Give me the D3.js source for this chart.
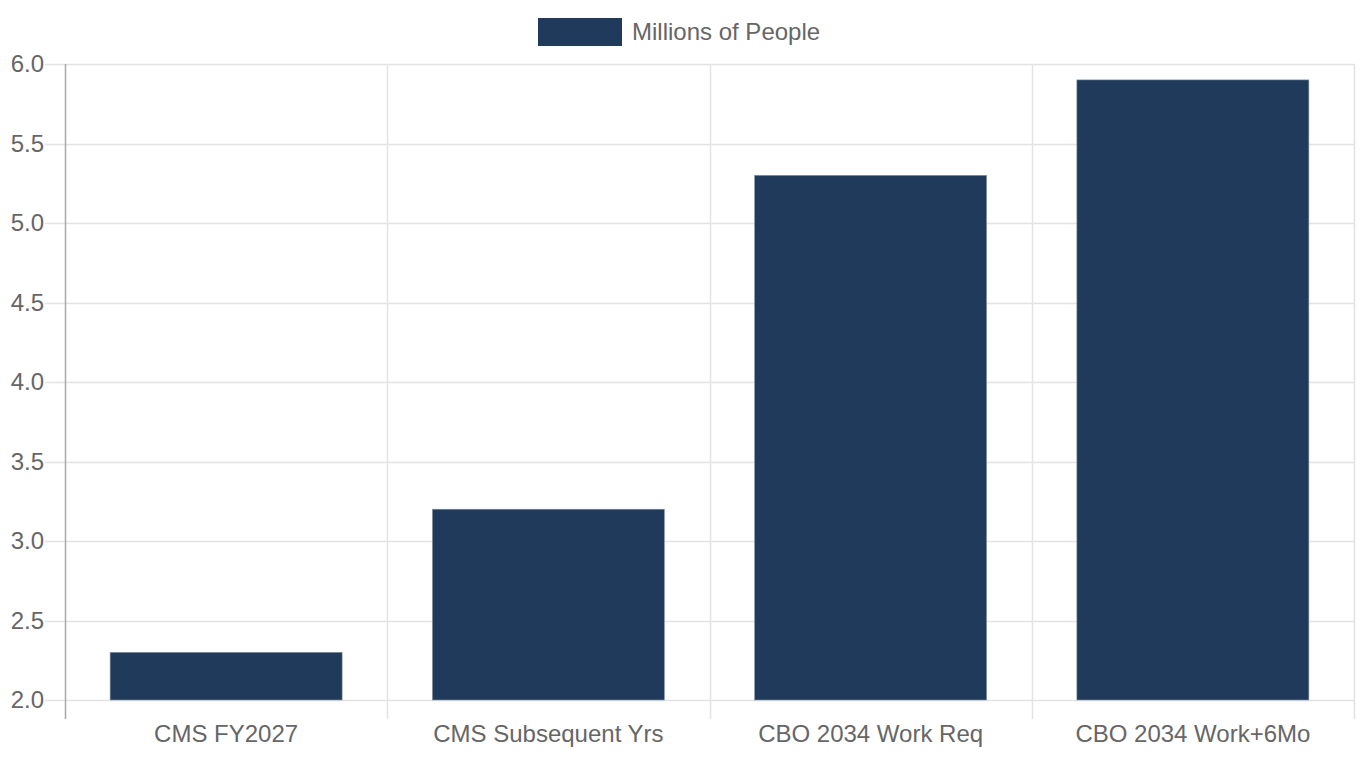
<!DOCTYPE html>
<html>
<head>
<meta charset="utf-8">
<script src="https://cdn.jsdelivr.net/npm/d3@7"></script>
<style>
  body { margin: 0; background: #fff; }
  svg text { font-family: "Liberation Sans", Arial, sans-serif; fill: #666; }
</style>
</head>
<body>
<div id="chart"></div>
<script>
// dados - data
var categories = ['CMS FY2027', 'CMS Subsequent Yrs', 'CBO 2034 Work Req', 'CBO 2034 Work+6Mo'];
var values = [2.3, 3.2, 5.3, 5.9];
var yTicks = [2.0, 2.5, 3.0, 3.5, 4.0, 4.5, 5.0, 5.5, 6.0];
var seriesName = 'Millions of People';

var width = 1360, height = 760;
var plotL = 65, plotR = 1354, plotT = 64, plotB = 700;
var barColor = '#1f3a5a';

var svg = d3.select('#chart')
  .append('svg')
  .attr('width', width)
  .attr('height', height);

var x = d3.scaleBand()
  .domain(categories)
  .range([plotL, plotR])
  .paddingInner(0)
  .paddingOuter(0);

var y = d3.scaleLinear()
  .domain([2, 6])
  .range([plotB, plotT]);

// horizontal grid + ticks
svg.append('g')
  .selectAll('line')
  .data(yTicks)
  .enter()
  .append('line')
  .attr('x1', 45)
  .attr('x2', plotR)
  .attr('y1', function(d){ return Math.round(y(d)) + 0.5; })
  .attr('y2', function(d){ return Math.round(y(d)) + 0.5; })
  .attr('stroke', '#e3e3e3')
  .attr('stroke-width', 1.5);

// vertical grid between categories
var bounds = categories.map(function(c){ return x(c); }).concat([plotR]);
svg.append('g')
  .selectAll('line')
  .data(bounds)
  .enter()
  .append('line')
  .attr('x1', function(d){ return Math.round(d) + 0.5; })
  .attr('x2', function(d){ return Math.round(d) + 0.5; })
  .attr('y1', plotT)
  .attr('y2', 719)
  .attr('stroke', function(d, i){ return i == 0 ? '#a8a8a8' : '#e3e3e3'; })
  .attr('stroke-width', 1.5);

// bars
svg.append('g')
  .selectAll('rect')
  .data(values)
  .enter()
  .append('rect')
  .attr('x', function(d, i){ return x(categories[i]) + x.bandwidth() * 0.14; })
  .attr('width', x.bandwidth() * 0.72)
  .attr('y', function(d){ return y(d); })
  .attr('height', function(d){ return y(2) - y(d); })
  .attr('fill', barColor)
  .attr('stroke', '#8a96a4')
  .attr('stroke-width', 0.6);

// y tick labels
svg.append('g')
  .selectAll('text')
  .data(yTicks)
  .enter()
  .append('text')
  .attr('x', 44)
  .attr('y', function(d){ return y(d) + 8; })
  .attr('text-anchor', 'end')
  .style('font-size', '24px')
  .text(function(d){ return d3.format('.1f')(d); });

// x labels
svg.append('g')
  .selectAll('text')
  .data(categories)
  .enter()
  .append('text')
  .attr('x', function(d){ return x(d) + x.bandwidth() / 2; })
  .attr('y', 742)
  .attr('text-anchor', 'middle')
  .style('font-size', '24px')
  .text(function(d){ return d; });

// legend
var lg = svg.append('g');
lg.append('rect')
  .attr('x', 538)
  .attr('y', 18)
  .attr('width', 84)
  .attr('height', 28)
  .attr('fill', barColor);
lg.append('text')
  .attr('x', 632)
  .attr('y', 40)
  .style('font-size', '24px')
  .text(seriesName);
</script>
</body>
</html>
